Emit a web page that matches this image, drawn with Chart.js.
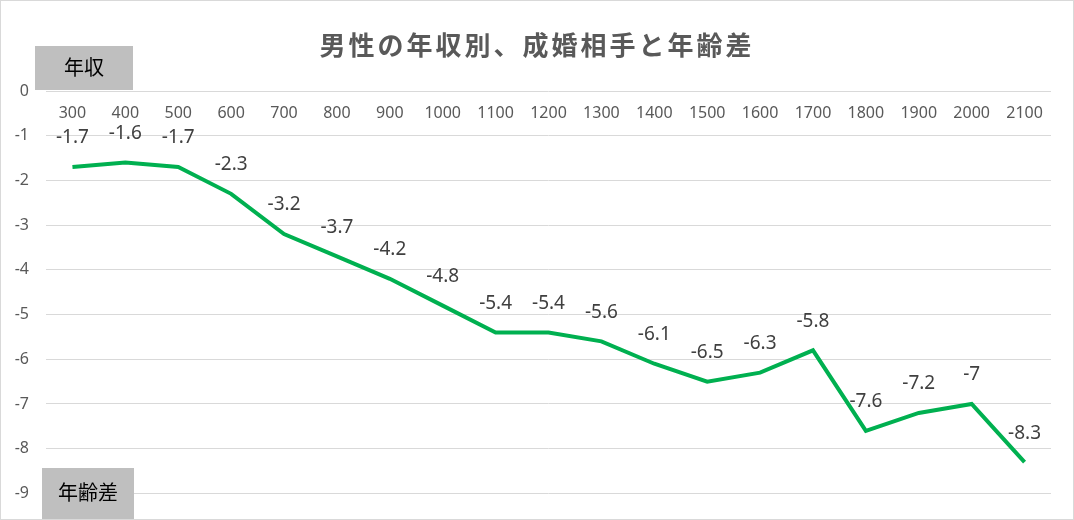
<!DOCTYPE html>
<html>
<head>
<meta charset="utf-8">
<script src="https://cdn.jsdelivr.net/npm/chart.js@4"></script>
<style>
  html, body { margin: 0; padding: 0; background: #fff; }
  canvas { display: block; }
</style>
</head>
<body>
<canvas id="chart" width="1074" height="520"></canvas>
<script>
// 年収（万円）と年齢差
const incomeLabels = ['300', '400', '500', '600', '700', '800', '900', '1000', '1100', '1200',
  '1300', '1400', '1500', '1600', '1700', '1800', '1900', '2000', '2100'];
const ageGap = [-1.7, -1.6, -1.7, -2.3, -3.2, -3.7, -4.2, -4.8, -5.4, -5.4,
  -5.6, -6.1, -6.5, -6.3, -5.8, -7.6, -7.2, -7, -8.3];
const yTicks = [0, -1, -2, -3, -4, -5, -6, -7, -8, -9];

const TITLE = '男性の年収別、成婚相手と年齢差';
const NUM_FONT = '"Noto Sans", "Open Sans", sans-serif';
const JP_FONT = '"Noto Sans CJK JP", sans-serif';

// タイトル・ラベル箱・データラベル・外枠を描くプラグイン
const decorations = {
  id: 'decorations',
  afterDatasetsDraw(chart) {
    const ctx = chart.ctx;
    const meta = chart.getDatasetMeta(0);
    ctx.save();
    ctx.font = '19px ' + NUM_FONT;
    ctx.fillStyle = '#404040';
    ctx.textAlign = 'center';
    ctx.textBaseline = 'middle';
    meta.data.forEach((pt, i) => {
      ctx.fillText(String(ageGap[i]), pt.x, pt.y - 29);
    });
    ctx.restore();
  },
  afterDraw(chart) {
    const ctx = chart.ctx;
    ctx.save();
    // title
    ctx.font = 'bold 26px ' + JP_FONT;
    ctx.letterSpacing = '3px';
    ctx.fillStyle = '#595959';
    ctx.textAlign = 'center';
    ctx.textBaseline = 'middle';
    ctx.fillText(TITLE, 537, 45);
    ctx.letterSpacing = '0px';
    // axis name boxes
    ctx.fillStyle = '#BFBFBF';
    ctx.fillRect(35, 46, 98, 44);
    ctx.fillRect(42, 468, 92, 52);
    ctx.font = '20px ' + JP_FONT;
    ctx.fillStyle = '#000';
    ctx.fillText('年収', 84, 67);
    ctx.fillText('年齢差', 88, 492);
    // outer frame
    ctx.strokeStyle = '#D9D9D9';
    ctx.lineWidth = 1;
    ctx.strokeRect(0.5, 0.5, chart.width - 1, chart.height - 1);
    ctx.restore();
  }
};

new Chart(document.getElementById('chart'), {
  type: 'line',
  data: {
    labels: incomeLabels,
    datasets: [{
      data: ageGap,
      borderColor: '#00B050',
      borderWidth: 4,
      pointRadius: 0,
      tension: 0,
      fill: false
    }]
  },
  options: {
    responsive: false,
    animation: false,
    devicePixelRatio: 1,
    layout: { padding: { left: 0, top: 91, right: 23, bottom: 22 } },
    plugins: { legend: { display: false }, tooltip: { enabled: false } },
    scales: {
      x: {
        position: { y: 0 },
        offset: true,
        grid: { display: false, drawTicks: false },
        border: { display: false },
        ticks: { color: '#595959', font: { size: 16, family: NUM_FONT }, padding: 13, maxRotation: 0, autoSkip: false }
      },
      y: {
        min: -9,
        max: 0,
        afterBuildTicks(scale) { scale.ticks = yTicks.map(v => ({ value: v })); },
        afterFit(scale) { scale.width = 46; },
        grid: { color: '#D9D9D9', lineWidth: 1, drawTicks: false },
        border: { display: false },
        ticks: { color: '#595959', font: { size: 16, family: NUM_FONT }, padding: 17 }
      }
    }
  },
  plugins: [decorations]
});
</script>
</body>
</html>
